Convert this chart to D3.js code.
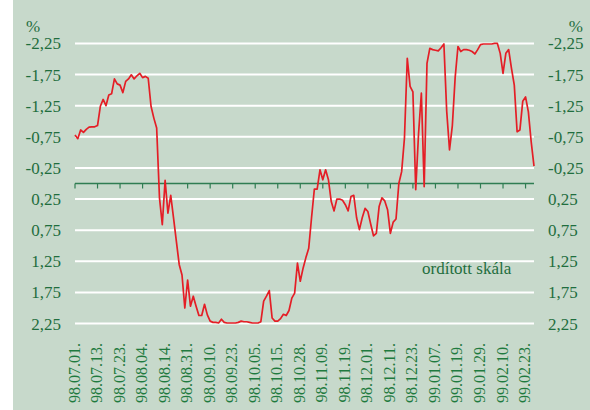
<!DOCTYPE html>
<html>
<head>
<meta charset="utf-8">
<script src="https://cdn.jsdelivr.net/npm/d3@7"></script>
<style>
  body { margin: 0; background: white; }
  text { font-family: "Liberation Serif", "DejaVu Serif", serif; }
</style>
</head>
<body>
<div class="mainVis"></div>
<script>
// date labels, one every 8 trading days
var dateLabels = ["98.07.01.", "98.07.13.", "98.07.23.", "98.08.04.", "98.08.14.", "98.08.31.",
  "98.09.10.", "98.09.23.", "98.10.05.", "98.10.15.", "98.10.28.", "98.11.09.", "98.11.19.",
  "98.12.01.", "98.12.11.", "98.12.23.", "99.01.07.", "99.01.19.", "99.01.29.", "99.02.10.", "99.02.23."]
var labelStep = 8

var yTicks = [-2.25, -1.75, -1.25, -0.75, -0.25, 0.25, 0.75, 1.25, 1.75, 2.25]
var yTickLabels = ["-2,25", "-1,75", "-1,25", "-0,75", "-0,25", "0,25", "0,75", "1,25", "1,75", "2,25"]

// daily values, %
var values = [
  -0.78, -0.72, -0.86, -0.82, -0.87, -0.905, -0.91, -0.91, -0.93, -1.24,
  -1.35, -1.25, -1.42, -1.44, -1.68, -1.60, -1.58, -1.46, -1.64, -1.68,
  -1.745, -1.68, -1.73, -1.77, -1.70, -1.72, -1.69, -1.24, -1.05, -0.89,
  0.23, 0.66, -0.05, 0.475, 0.19, 0.555, 0.93, 1.30, 1.47, 2.0,
  1.55, 1.97, 1.81, 1.97, 2.12, 2.12, 1.94, 2.11, 2.21, 2.23,
  2.23, 2.24, 2.18, 2.23, 2.24, 2.24, 2.24, 2.24, 2.23, 2.21,
  2.22, 2.22, 2.23, 2.24, 2.24, 2.24, 2.22, 1.89, 1.81, 1.72,
  2.16, 2.21, 2.21, 2.17, 2.10, 2.12, 2.04, 1.84, 1.76, 1.28,
  1.57, 1.36, 1.19, 1.04, 0.55, 0.09, 0.09, -0.22, -0.06, -0.22,
  -0.06, 0.29, 0.44, 0.25, 0.25, 0.27, 0.34, 0.44, 0.21, 0.19,
  0.55, 0.74, 0.55, 0.40, 0.45, 0.65, 0.84, 0.80, 0.37, 0.23,
  0.28, 0.42, 0.80, 0.62, 0.57, 0.00, -0.19, -0.73, -2.01, -1.56,
  -1.47, 0.10, -0.80, -1.45, 0.05, -1.93, -2.17, -2.15, -2.14, -2.13,
  -2.18, -2.24, -1.16, -0.54, -0.93, -1.70, -2.20, -2.12, -2.15, -2.15,
  -2.14, -2.12, -2.08, -2.15, -2.23, -2.24, -2.24, -2.24, -2.24, -2.25,
  -2.25, -2.09, -1.77, -2.09, -2.15, -1.85, -1.58, -0.83, -0.86, -1.32,
  -1.39, -1.15, -0.67, -0.28
]

var width = 590
var height = 410
var green = "#1f6e3e"

var canvas = d3.select(".mainVis")
    .append("svg")
    .attr("width", width)
    .attr("height", height)

canvas.append("rect")
    .attr("x", 13)
    .attr("y", 0)
    .attr("width", width - 13)
    .attr("height", height)
    .attr("fill", "#c7d9cb")

var x = d3.scaleLinear()
    .domain([0, values.length - 1])
    .range([75, 534])

var y = d3.scaleLinear()
    .domain([-2.25, 2.25])
    .range([43.4, 323.6])

// white grid lines
canvas.selectAll(".grid")
    .data(yTicks)
    .enter()
    .append("line")
    .attr("class", "grid")
    .attr("x1", x(0))
    .attr("x2", x(values.length - 1))
    .attr("y1", function(d) { return y(d); })
    .attr("y2", function(d) { return y(d); })
    .attr("stroke", "white")
    .attr("stroke-width", 2)

// left and right value labels
canvas.selectAll(".yLabelLeft")
    .data(yTicks)
    .enter()
    .append("text")
    .attr("class", "yLabelLeft")
    .attr("x", 61)
    .attr("y", function(d) { return y(d) + 6; })
    .attr("text-anchor", "end")
    .attr("fill", green)
    .style("font-size", "17px")
    .text(function(d, i) { return yTickLabels[i]; })

canvas.selectAll(".yLabelRight")
    .data(yTicks)
    .enter()
    .append("text")
    .attr("class", "yLabelRight")
    .attr("x", 548)
    .attr("y", function(d) { return y(d) + 6; })
    .attr("fill", green)
    .style("font-size", "17px")
    .text(function(d, i) { return yTickLabels[i]; })

canvas.append("text")
    .attr("x", 26)
    .attr("y", 32)
    .attr("fill", green)
    .style("font-size", "17px")
    .text("%")

canvas.append("text")
    .attr("x", 583)
    .attr("y", 32)
    .attr("text-anchor", "end")
    .attr("fill", green)
    .style("font-size", "17px")
    .text("%")

// zero axis with ticks
var tickIdx = dateLabels.map(function(d, i) { return i * labelStep; })

canvas.append("line")
    .attr("x1", x(0))
    .attr("x2", x(values.length - 1))
    .attr("y1", y(0))
    .attr("y2", y(0))
    .attr("stroke", "#2f7d52")
    .attr("stroke-width", 1.6)

canvas.selectAll(".tick")
    .data(tickIdx)
    .enter()
    .append("line")
    .attr("class", "tick")
    .attr("x1", function(d) { return x(d); })
    .attr("x2", function(d) { return x(d); })
    .attr("y1", y(0))
    .attr("y2", y(0) + 5)
    .attr("stroke", "#2f7d52")
    .attr("stroke-width", 1.2)

// rotated date labels
canvas.selectAll(".dateLabel")
    .data(dateLabels)
    .enter()
    .append("text")
    .attr("class", "dateLabel")
    .attr("transform", function(d, i) {
        return "translate(" + (x(i * labelStep) + 4.5) + ",343) rotate(-90)";
    })
    .attr("text-anchor", "end")
    .attr("fill", "#1f7a3e")
    .style("font-size", "16px")
    .text(function(d) { return d; })

canvas.append("text")
    .attr("x", 422)
    .attr("y", 274)
    .attr("fill", green)
    .style("font-size", "17px")
    .text("ordított skála")

// the series
var line = d3.line()
    .x(function(d, i) { return x(i); })
    .y(function(d) { return y(d); })

canvas.append("path")
    .datum(values)
    .attr("d", line)
    .attr("fill", "none")
    .attr("stroke", "#e41e26")
    .attr("stroke-width", 1.7)
    .attr("stroke-linejoin", "round")
</script>
</body>
</html>
